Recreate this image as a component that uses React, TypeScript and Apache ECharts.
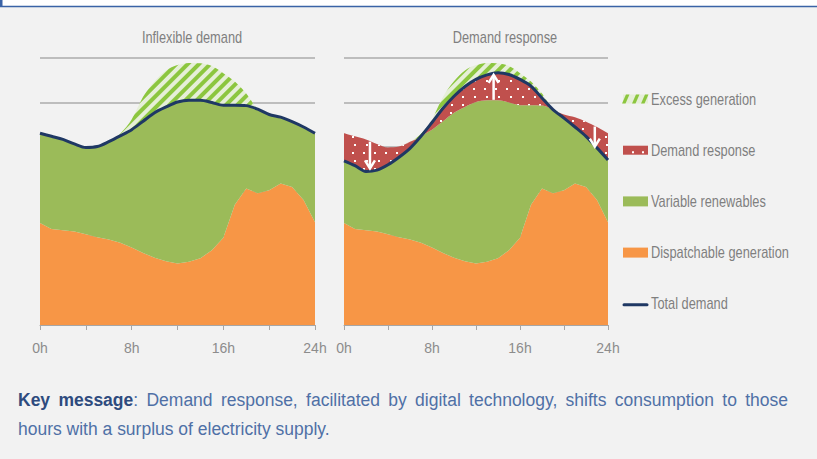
import React, { useEffect, useRef } from "react";
import * as echarts from "echarts";

const HOURS = [0, 1, 2, 3, 4, 5, 6, 7, 8, 9, 10, 11, 12, 13, 14, 15, 16, 17, 18, 19, 20, 21, 22, 23, 24];
const DISPATCHABLE = [2.29, 2.16, 2.13, 2.1, 2.04, 1.97, 1.92, 1.85, 1.74, 1.62, 1.51, 1.43, 1.38, 1.42, 1.5, 1.68, 1.96, 2.7, 3.07, 2.96, 3.03, 3.18, 3.1, 2.81, 2.31];
const DEMAND_INFLEXIBLE = [4.31, 4.24, 4.17, 4.07, 3.99, 4.01, 4.12, 4.25, 4.39, 4.58, 4.77, 4.9, 5.01, 5.05, 5.05, 5.0, 4.94, 4.94, 4.93, 4.85, 4.73, 4.67, 4.57, 4.45, 4.31];
const DEMAND_SHIFTED = [3.69, 3.58, 3.45, 3.48, 3.6, 3.77, 3.97, 4.24, 4.55, 4.87, 5.14, 5.36, 5.52, 5.62, 5.67, 5.63, 5.52, 5.37, 5.1, 4.84, 4.65, 4.45, 4.24, 3.98, 3.71];
const SUPPLY_POTENTIAL = [4.31, 4.24, 4.17, 4.07, 3.99, 4.01, 4.12, 4.3, 4.62, 5.13, 5.48, 5.72, 5.84, 5.89, 5.88, 5.82, 5.66, 5.47, 5.2, 4.85, 4.73, 4.67, 4.57, 4.45, 4.31];
const PANEL_TITLES = ["Inflexible demand", "Demand response"];
const LEGEND_NAMES = ["Excess generation", "Demand response", "Variable renewables", "Dispatchable generation", "Total demand"];
// demand-response arrows: hour, from value, to value
const ARROW_HOURS = [2.36, 13.6, 22.8];
const ARROW_FROM = [4.12, 5.06, 4.46];
const ARROW_TO = [3.52, 5.62, 4.01];

const FONT = "'Liberation Sans', Arial, sans-serif";
const NARROW = 0.8;
const C_ORANGE = "#f79646";
const C_GREEN = "#9bbb59";
const C_RED = "#c0504d";
const C_NAVY = "#1f3864";
const C_HATCH_BG = "#e6efd8";
const C_HATCH = "#8cc63f";
const C_TEXT = "#7f7f7f";

const KEY_LINE1 = "Demand response, facilitated by digital technology, shifts consumption to those";
const KEY_LINE2 = "hours with a surplus of electricity supply.";

export default function App() {
  const ref = useRef<HTMLDivElement>(null);
  useEffect(() => {
    if (!ref.current) return;
    const chart = echarts.init(ref.current, undefined, { renderer: "svg" });

    const hatchDecal = {
      symbol: "rect",
      symbolSize: 1,
      color: C_HATCH,
      dashArrayX: [1, 0],
      dashArrayY: [4, 4],
      rotation: -Math.PI / 4,
    };
    const dotDecal = {
      symbol: "rect",
      symbolSize: 1,
      color: "#ffffff",
      dashArrayX: [[2, 9], [0, 5.5, 2, 3.5]],
      dashArrayY: [2, 6],
      rotation: 0,
    };

    const grids = [
      { left: 40, top: 58, width: 275, height: 267 },
      { left: 344, top: 58, width: 264, height: 267 },
    ];
    const xAxes = grids.map((_, i) => ({
      type: "category",
      gridIndex: i,
      data: HOURS.map(String),
      boundaryGap: false,
      axisLine: { show: true, lineStyle: { color: "#a6a6a6", width: 1 } },
      axisTick: { show: true, length: 5, interval: 3, lineStyle: { color: "#a6a6a6" } },
      splitLine: { show: false },
      axisLabel: {
        interval: 7,
        margin: 16,
        fontSize: 14,
        fontFamily: FONT,
        color: "#8c8c8c",
        formatter: (v: string) => v + "h",
      },
    }));
    const yAxes = grids.map((_, i) => ({
      type: "value",
      gridIndex: i,
      min: 0,
      max: 6,
      interval: 1,
      axisLine: { show: false },
      axisTick: { show: false },
      axisLabel: { show: false },
      splitLine: { show: true, lineStyle: { color: "#ababab", width: 1.5 } },
    }));

    const area = (name: string, idx: number, vals: number[], color: string, smooth: number | boolean, decal?: any) => ({
      name,
      type: "line",
      xAxisIndex: idx,
      yAxisIndex: idx,
      stack: "s" + idx,
      data: vals.map((v) => Math.round(v * 1000) / 1000),
      symbol: "none",
      smooth,
      lineStyle: { width: 0, color, decal },
      itemStyle: { color, decal },
      areaStyle: { color, opacity: 1 },
      silent: true,
    });

    const greenL = DEMAND_INFLEXIBLE.map((d, i) => d - DISPATCHABLE[i]);
    const excessL = SUPPLY_POTENTIAL.map((s, i) => Math.max(0, s - DEMAND_INFLEXIBLE[i]));
    const greenR = DEMAND_INFLEXIBLE.map((d, i) => Math.min(d, DEMAND_SHIFTED[i]) - DISPATCHABLE[i]);
    const redR = DEMAND_INFLEXIBLE.map((d, i) => Math.abs(d - DEMAND_SHIFTED[i]));
    const excessR = SUPPLY_POTENTIAL.map((s, i) => Math.max(0, s - Math.max(DEMAND_INFLEXIBLE[i], DEMAND_SHIFTED[i])));

    const navy = (idx: number, vals: number[]) => ({
      name: "Total demand",
      type: "line",
      xAxisIndex: idx,
      yAxisIndex: idx,
      data: vals,
      symbol: "none",
      smooth: 0.3,
      lineStyle: { width: 3, color: C_NAVY },
      itemStyle: { color: C_NAVY },
      z: 5,
      silent: true,
    });

    const series = [
      area("Dispatchable generation", 0, DISPATCHABLE, C_ORANGE, false),
      area("Variable renewables", 0, greenL, C_GREEN, 0.3),
      area("Excess generation", 0, excessL, C_HATCH_BG, 0.3, hatchDecal),
      navy(0, DEMAND_INFLEXIBLE),
      area("Dispatchable generation", 1, DISPATCHABLE, C_ORANGE, false),
      area("Variable renewables", 1, greenR, C_GREEN, 0.3),
      area("Demand response", 1, redR, C_RED, 0.3, dotDecal),
      area("Excess generation", 1, excessR, C_HATCH_BG, 0.3, hatchDecal),
      navy(1, DEMAND_SHIFTED),
    ];

    const narrowText = (text: string, x: number, y: number, size: number, fill: string, align: string, bold = false, sx = NARROW) => ({
      type: "text",
      x,
      y,
      scaleX: sx,
      style: {
        text,
        x: 0,
        y: 0,
        font: `${bold ? "bold " : ""}${size}px ${FONT}`,
        fill,
        textAlign: align,
        textVerticalAlign: "middle",
      },
    });

    // legend (drawn)
    const legendEls: any[] = [];
    const lx = 623;
    const lw = 25;
    LEGEND_NAMES.forEach((name, i) => {
      const cy = 99 + i * 51.2;
      if (i === 0) {
        legendEls.push({ type: "rect", shape: { x: lx, y: cy - 4.5, width: lw, height: 9 }, style: { fill: C_HATCH_BG } });
        [626, 636, 645].forEach((c) => {
          legendEls.push({
            type: "polygon",
            shape: { points: [[c - 4, cy + 4.5], [c - 0.5, cy + 4.5], [c + 3.5, cy - 4.5], [c, cy - 4.5]] },
            style: { fill: C_HATCH },
          });
        });
      } else if (i === 1) {
        legendEls.push({ type: "rect", shape: { x: lx, y: cy - 4.5, width: lw, height: 9 }, style: { fill: C_RED } });
        [632, 642].forEach((c) => {
          legendEls.push({ type: "rect", shape: { x: c, y: cy + 1, width: 2, height: 2 }, style: { fill: "#fff" } });
        });
      } else if (i === 2 || i === 3) {
        legendEls.push({ type: "rect", shape: { x: lx, y: cy - 5, width: lw, height: 10 }, style: { fill: i === 2 ? C_GREEN : C_ORANGE } });
      } else {
        legendEls.push({
          type: "line",
          shape: { x1: lx + 1, y1: cy + 1, x2: lx + lw - 1, y2: cy + 1 },
          style: { stroke: C_NAVY, lineWidth: 3, lineCap: "round" },
        });
      }
      legendEls.push(narrowText(name, 651, cy, 16, C_TEXT, "left"));
    });

    // key message with justified first line
    const cv = document.createElement("canvas");
    const ctx = cv.getContext("2d")!;
    const fs = 19;
    const measure = (t: string, bold: boolean) => {
      ctx.font = `${bold ? "bold " : ""}${fs}px ${FONT}`;
      return ctx.measureText(t).width;
    };
    const kScale = Math.min(1, 312 / measure(KEY_LINE2, false));
    const tokens: { t: string; b: boolean }[][] = [
      [{ t: "Key", b: true }],
      [{ t: "message", b: true }, { t: ":", b: false }],
      ...KEY_LINE1.split(" ").map((w) => [{ t: w, b: false }]),
    ];
    const widths = tokens.map((tk) => tk.reduce((s, seg) => s + measure(seg.t, seg.b) * kScale, 0));
    const total = widths.reduce((a, b) => a + b, 0);
    const gap = (788 - 18 - total) / (tokens.length - 1);
    const keyEls: any[] = [];
    let x = 18;
    tokens.forEach((tk, i) => {
      let sx = x;
      tk.forEach((seg) => {
        keyEls.push(narrowText(seg.t, sx, 399, fs, seg.b ? "#2e4b7e" : "#4f70a6", "left", seg.b, kScale));
        sx += measure(seg.t, seg.b) * kScale;
      });
      x += widths[i] + gap;
    });
    keyEls.push(narrowText(KEY_LINE2, 18, 428, fs, "#4f70a6", "left", false, kScale));

    const titleEls = PANEL_TITLES.map((t, i) => narrowText(t, i === 0 ? 192 : 505, 37, 16, C_TEXT, "center"));

    const frameEls = [
      { type: "rect", shape: { x: 0, y: 0, width: 817, height: 6 }, style: { fill: "#ffffff" } },
      { type: "line", shape: { x1: 0, y1: 6.5, x2: 817, y2: 6.5 }, style: { stroke: "#3a63a6", lineWidth: 1.5 } },
      { type: "rect", shape: { x: 0, y: 0, width: 2.5, height: 7 }, style: { fill: "#3a63a6" } },
    ];

    chart.setOption({
      animation: false,
      backgroundColor: "#f2f2f2",
      grid: grids,
      xAxis: xAxes,
      yAxis: yAxes,
      series,
    });

    // arrows, positioned through the right panel's scales
    const px = (h: number, v: number) => {
      const h0 = Math.floor(h);
      const h1 = Math.min(24, h0 + 1);
      const a = chart.convertToPixel({ xAxisIndex: 1, yAxisIndex: 1 }, [h0, v]) as number[];
      const b = chart.convertToPixel({ xAxisIndex: 1, yAxisIndex: 1 }, [h1, v]) as number[];
      return [a[0] + (b[0] - a[0]) * (h - h0), a[1]];
    };
    const arrowEls: any[] = [];
    ARROW_HOURS.forEach((h, i) => {
      const p1 = px(h, ARROW_FROM[i]);
      const p2 = px(h, ARROW_TO[i]);
      const dir = p2[1] > p1[1] ? 1 : -1;
      arrowEls.push({
        type: "line",
        z: 100,
        shape: { x1: p1[0], y1: p1[1], x2: p2[0], y2: p2[1] - dir * 1 },
        style: { stroke: "#ffffff", lineWidth: 2.5 },
      });
      arrowEls.push({
        type: "polyline",
        z: 100,
        shape: { points: [[p2[0] - 5, p2[1] - dir * 8], [p2[0], p2[1]], [p2[0] + 5, p2[1] - dir * 8]] },
        style: { stroke: "#ffffff", lineWidth: 2.5, fill: "none" },
      });
    });

    chart.setOption({
      graphic: [...frameEls, ...titleEls, ...legendEls, ...keyEls, ...arrowEls].map((e) => ({ ...e, silent: true })),
    });

    return () => chart.dispose();
  }, []);

  return <div ref={ref} style={{ position: "absolute", left: 0, top: 0, width: 817, height: 459 }} />;
}
